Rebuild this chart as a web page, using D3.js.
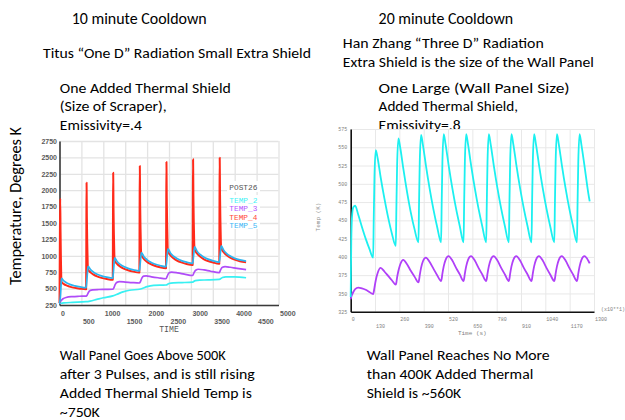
<!DOCTYPE html>
<html><head><meta charset="utf-8">
<script src="https://cdn.jsdelivr.net/npm/d3@7"></script>
<style>body{margin:0;background:#fff;} svg{display:block;}</style>
</head><body>
<svg id="c" width="625" height="420"></svg>
<script>
// ---------- LEFT CHART DATA (POST26, 10 minute cooldown) ----------
const timeL = [0,8,16,24,32,40,48,100,170,250,350,470,600,
 608,613,618,625,634,644,654,708,778,858,958,1078,1208,
 1216,1221,1226,1233,1242,1252,1262,1316,1386,1466,1566,1686,1816,
 1824,1829,1834,1841,1850,1860,1870,1924,1994,2074,2174,2294,2424,
 2432,2437,2442,2449,2458,2468,2478,2532,2602,2682,2782,2902,3032,
 3040,3045,3050,3057,3066,3076,3086,3140,3210,3290,3390,3510,3640,
 3648,3653,3658,3665,3674,3684,3694,3748,3818,3898,3998,4118,4260];
const temp4 = [280,1234,1870,1362,981,689,600,569,545,526,511,499,490,
 490,1465,2115,1585,1188,883,790,747,713,686,664,647,635,
 635,1613,2265,1729,1327,1019,925,875,835,804,779,759,745,
 745,1720,2370,1826,1418,1105,1010,954,910,876,848,826,810,
 810,1782,2430,1884,1475,1161,1065,1008,963,928,899,876,860,
 860,1826,2470,1920,1508,1191,1095,1035,988,951,921,897,880,
 880,1849,2495,1943,1529,1212,1115,1055,1008,971,941,917,900];
const temp5 = [275,305,343,408,503,598,655,616,585,561,542,526,515,
 515,541,574,629,710,791,840,790,750,719,694,674,660,
 660,685,716,769,846,924,970,914,870,836,808,786,770,
 770,792,820,868,938,1008,1050,990,943,906,876,852,835,
 835,857,884,930,997,1065,1105,1043,995,958,927,903,885,
 885,905,930,973,1035,1098,1135,1071,1020,981,949,923,905,
 905,925,949,991,1052,1113,1150,1086,1035,996,964,938,920];
const timeP = [0,30,80,150,300,450,608,630,660,700,760,900,1050,1216,1240,1270,1310,1370,1500,1650,1824,1850,1880,1920,1980,2100,2250,2432,2460,2500,2560,2700,2850,3040,3070,3110,3170,3300,3450,3648,3680,3720,3780,3900,4050,4260];
const temp3 = [275,310,345,365,378,383,386,400,440,470,482,486,488,490,510,560,595,605,600,592,585,610,660,690,695,680,665,650,690,740,752,740,720,700,740,780,795,785,765,745,790,825,835,825,808,790];
const timeC = [0,100,300,608,700,850,1000,1216,1300,1450,1600,1824,1900,2000,2150,2432,2500,2600,2800,3040,3100,3200,3400,3648,3720,3800,4000,4260];
const temp2 = [275,282,290,300,310,335,360,390,410,450,475,490,505,530,548,555,578,588,592,600,622,630,632,640,670,680,678,665];
const xTicksL = [0,500,1000,1500,2000,2500,3000,3500,4000,4500,5000];
const yTicksL = [250,500,750,1000,1250,1500,1750,2000,2250,2500,2750];
const legendL = ["TEMP_2","TEMP_3","TEMP_4","TEMP_5"];

// ---------- RIGHT CHART DATA (20 minute cooldown, time x10 s) ----------
const timeR = [0,3,7,14,24,40,60,80,100,
 120,123,127,134,144,160,180,200,220,
 241,244,248,255,265,281,301,321,341,
 362,365,369,376,386,402,422,442,462,
 483,486,490,497,507,523,543,563,583,
 603,606,610,617,627,643,663,683,703,
 724,727,731,738,748,764,784,804,824,
 845,848,852,859,869,885,905,925,945,
 966,969,973,980,990,1006,1026,1046,1066,
 1088,1091,1095,1102,1112,1128,1148,1168,1188,
 1209,1212,1216,1223,1233,1249,1269,1277];
const shieldT = [345,420,455,468,470,458,441,425,411,
 399,450,510,546,535,509,480,454,432,
 415,465,525,562,549,521,489,461,438,
 420,470,530,567,553,525,493,465,441,
 420,470,530,568,554,526,494,466,442,
 420,470,530,568,554,526,494,466,442,
 420,470,530,568,554,526,494,466,442,
 420,470,530,568,554,526,494,466,442,
 420,470,530,568,554,526,494,466,442,
 420,470,530,568,554,526,494,466,442,
 420,470,530,568,553,525,488,476];
const wallT = [342,345,348,352,356,358,357,355,352,
 349,352,358,368,378,385,380,374,368,
 362,365,372,381,390,396,390,381,373,
 365,368,375,385,394,399,393,384,375,
 367,370,377,387,396,401,395,385,376,
 367,370,377,387,396,401,395,385,376,
 367,370,377,387,396,401,395,385,376,
 367,370,377,387,396,401,395,385,376,
 367,370,377,387,396,401,395,385,376,
 367,370,377,387,396,401,395,385,376,
 367,370,377,387,396,401,395,391];
const xTicksR = [0,130,260,390,520,650,780,910,1040,1170,1300];
const yTicksR = [325,350,375,400,425,450,475,500,525,550,575];

const svg = d3.select("#c");
const font = "Carlito, Lato, 'Open Sans', sans-serif";
const fmt = d3.format("d");

// ---------- slide text ----------
function slideText(str, x, yb, w, size) {
  svg.append("text").attr("x", x).attr("y", yb)
    .attr("font-family", font).attr("font-size", size || 15)
    .attr("textLength", w).attr("lengthAdjust", "spacingAndGlyphs")
    .attr("fill", "#000").text(str);
}
slideText("10 minute Cooldown", 71.7, 23.5, 135, 16);
slideText("20 minute Cooldown", 378.6, 23.5, 134.5, 16);
slideText("Titus \u201COne D\u201D Radiation Small Extra Shield", 43, 57.5, 268);
slideText("Han Zhang \u201CThree D\u201D Radiation", 342.8, 48, 201);
slideText("Extra Shield is the size of the Wall Panel", 342.8, 67, 251);
slideText("One Added Thermal Shield", 59.8, 92.5, 171);
slideText("(Size of Scraper),", 59.8, 111, 107);
slideText("Emissivity=.4", 59.8, 130, 82);
slideText("One Large (Wall Panel Size)", 378.6, 92.5, 191);
slideText("Added Thermal Shield,", 378.6, 111, 139.5);
slideText("Emissivity=.8", 378.6, 130, 82);
slideText("Wall Panel Goes Above 500K", 59.8, 360, 166);
slideText("after 3 Pulses, and is still rising", 59.8, 379.3, 195);
slideText("Added Thermal Shield Temp is", 59.8, 398.3, 192);
slideText("~750K", 59.8, 416.7, 40);
slideText("Wall Panel Reaches No More", 366.7, 360, 183);
slideText("than 400K Added Thermal", 366.7, 379.3, 166.6);
slideText("Shield is ~560K", 366.7, 398.3, 94.5);
svg.append("text").attr("transform", "translate(21,206) rotate(-90)")
  .attr("text-anchor", "middle").attr("font-family", font).attr("font-size", 16)
  .attr("textLength", 158).attr("lengthAdjust", "spacingAndGlyphs")
  .text("Temperature, Degrees K");

// ---------- LEFT CHART ----------
const xL = d3.scaleLinear().domain([0, 5000]).range([59.5, 278.5]);
const yL = d3.scaleLinear().domain([250, 2750]).range([305, 141]);
const gL = svg.append("g");
// grid
gL.append("g").attr("transform", "translate(0,305)")
  .call(d3.axisBottom(xL).tickValues(xTicksL).tickSize(-164).tickFormat(""))
  .call(g => g.select(".domain").remove())
  .call(g => g.selectAll("line").attr("stroke", "#e3e3e3").attr("stroke-width", 1.3));
gL.append("g").attr("transform", "translate(59.5,0)")
  .call(d3.axisLeft(yL).tickValues(yTicksL).tickSize(-219).tickFormat(""))
  .call(g => g.select(".domain").remove())
  .call(g => g.selectAll("line").attr("stroke", "#e3e3e3").attr("stroke-width", 1.3));

// legend (white boxes then text)
const legColors = ["#44f2f5", "#b455ff", "#ff4a3a", "#3cb6f5"];
const legG = gL.append("g").attr("font-family", "'Liberation Mono', monospace").attr("font-size", 7.8);
legG.append("rect").attr("x", 227).attr("y", 181).attr("width", 33).attr("height", 11).attr("fill", "#fff");
legG.append("rect").attr("x", 227).attr("y", 195).attr("width", 33).attr("height", 34).attr("fill", "#fff");
legG.append("text").attr("x", 229.3).attr("y", 189.5).attr("fill", "#555").text("POST26");
legG.selectAll("text.leg").data(legendL).join("text").attr("class", "leg")
  .attr("x", 229.3).attr("y", (d, i) => 203 + i * 8.4)
  .attr("fill", (d, i) => legColors[i]).text(d => d);

// axes
const tickFontL = g => g.selectAll("text").attr("font-family", "'Liberation Sans', Arial, sans-serif")
  .attr("font-weight", "bold").attr("font-size", 7).attr("fill", "#5a5a5a");
gL.append("g").attr("transform", "translate(59.5,0)")
  .call(d3.axisLeft(yL).tickValues(yTicksL).tickFormat(fmt).tickSize(0).tickPadding(2.5))
  .call(g => g.select(".domain").attr("stroke", "#3a3a3a").attr("stroke-width", 1.6))
  .call(tickFontL);
gL.append("g").attr("transform", "translate(0,305)")
  .call(d3.axisBottom(xL).tickValues(xTicksL.filter((d, i) => i % 2 === 0)).tickFormat(fmt).tickSize(0))
  .call(g => g.select(".domain").attr("stroke", "#3a3a3a").attr("stroke-width", 1.6))
  .call(tickFontL)
  .call(g => g.selectAll("text").attr("text-anchor", "start").attr("dx", 1).attr("y", 10.5).attr("dy", 0));
gL.append("g").attr("transform", "translate(0,305)")
  .call(d3.axisBottom(xL).tickValues(xTicksL.filter((d, i) => i % 2 === 1)).tickFormat(fmt).tickSize(0))
  .call(g => g.select(".domain").remove())
  .call(tickFontL)
  .call(g => g.selectAll("text").attr("text-anchor", "start").attr("dx", 1).attr("y", 18.5).attr("dy", 0));
gL.append("text").attr("x", 169).attr("y", 332).attr("text-anchor", "middle")
  .attr("font-family", "'Liberation Mono', monospace").attr("font-size", 8.2).attr("fill", "#555").text("TIME");

// lines (drawn over the axis lines)
const lineL = d3.line().x(d => xL(d[0])).y(d => yL(d[1])).curve(d3.curveMonotoneX);
const seriesL = [
  {t: timeC, v: temp2, c: "#38f0f2", w: 1.7},
  {t: timeP, v: temp3, c: "#b04cf8", w: 1.7},
  {t: timeL, v: temp4, c: "#ff2a1a", w: 2},
  {t: timeL, v: temp5, c: "#2cb4f0", w: 1.7}
];
seriesL.forEach(s => {
  gL.append("path").datum(s.t.map((t, i) => [t, s.v[i]]))
    .attr("d", lineL).attr("fill", "none").attr("stroke", s.c)
    .attr("stroke-width", s.w).attr("stroke-linejoin", "round");
});

// ---------- RIGHT CHART ----------
const xR = d3.scaleLinear().domain([0, 1300]).range([350.7, 594]);
const yR = d3.scaleLinear().domain([325, 575]).range([311.7, 129]);
const gR = svg.append("g");
gR.append("g").attr("transform", "translate(0,311.7)")
  .call(d3.axisBottom(xR).tickValues(xTicksR).tickSize(-182.7).tickFormat(""))
  .call(g => g.select(".domain").remove())
  .call(g => g.selectAll("line").attr("stroke", "#e8e8e8").attr("stroke-width", 1));
gR.append("g").attr("transform", "translate(350.7,0)")
  .call(d3.axisLeft(yR).tickValues(yTicksR).tickSize(-243.3).tickFormat(""))
  .call(g => g.select(".domain").remove())
  .call(g => g.selectAll("line").attr("stroke", "#e8e8e8").attr("stroke-width", 1));

const tickFontR = g => g.selectAll("text").attr("font-family", "'Liberation Mono', monospace")
  .attr("font-size", 5).attr("fill", "#808080");
gR.append("g").attr("transform", "translate(350.7,0)")
  .call(d3.axisLeft(yR).tickValues(yTicksR).tickFormat(fmt).tickSize(0).tickPadding(3.4))
  .call(g => g.select(".domain").attr("stroke", "#111").attr("stroke-width", 1.6))
  .call(tickFontR);
gR.append("g").attr("transform", "translate(0,311.7)")
  .call(d3.axisBottom(xR).tickValues(xTicksR.filter((d, i) => i % 2 === 0)).tickFormat(fmt).tickSize(0))
  .call(g => g.select(".domain").attr("stroke", "#111").attr("stroke-width", 1.6))
  .call(tickFontR)
  .call(g => g.selectAll("text").attr("text-anchor", "start").attr("dx", 0.5).attr("y", 9).attr("dy", 0));
gR.append("g").attr("transform", "translate(0,311.7)")
  .call(d3.axisBottom(xR).tickValues(xTicksR.filter((d, i) => i % 2 === 1)).tickFormat(fmt).tickSize(0))
  .call(g => g.select(".domain").remove())
  .call(tickFontR)
  .call(g => g.selectAll("text").attr("text-anchor", "start").attr("dx", 0.5).attr("y", 16).attr("dy", 0));
gR.append("text").attr("x", 472.3).attr("y", 334.5).attr("text-anchor", "middle")
  .attr("font-family", "'Liberation Mono', monospace").attr("font-size", 6).attr("fill", "#808080").text("Time (s)");
gR.append("text").attr("x", 601).attr("y", 310.5)
  .attr("font-family", "'Liberation Mono', monospace").attr("font-size", 5).attr("fill", "#808080").text("(x10**1)");
gR.append("text").attr("transform", "translate(319.5,217) rotate(-90)").attr("text-anchor", "middle")
  .attr("font-family", "'Liberation Mono', monospace").attr("font-size", 6).attr("fill", "#909090").text("Temp (K)");

const lineR = d3.line().x(d => xR(d[0])).y(d => yR(d[1])).curve(d3.curveMonotoneX);
[{v: wallT, c: "#b040f8"}, {v: shieldT, c: "#1cf0f0"}].forEach(s => {
  gR.append("path").datum(timeR.map((t, i) => [t, s.v[i]]))
    .attr("d", lineR).attr("fill", "none").attr("stroke", s.c)
    .attr("stroke-width", 1.8).attr("stroke-linejoin", "round");
});
</script>
</body></html>
